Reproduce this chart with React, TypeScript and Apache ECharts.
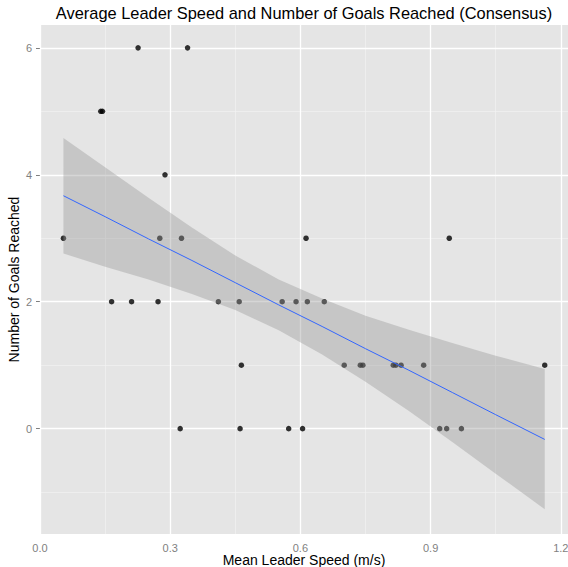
import React, { useEffect, useRef } from "react";
import * as echarts from "echarts";

// Observed points: mean leader speed (m/s) and number of goals reached
const speed = [
  0.054, 0.14, 0.144, 0.226, 0.34, 0.288, 0.165, 0.211, 0.272, 0.411, 0.276,
  0.326, 0.323, 0.459, 0.464, 0.461, 0.558, 0.59, 0.616, 0.655, 0.613, 0.573,
  0.605, 0.701, 0.738, 0.744, 0.814, 0.82, 0.832, 0.884, 0.943, 0.921, 0.937,
  0.971, 1.163,
];
const goals = [
  3, 5, 5, 6, 6, 4, 2, 2, 2, 2, 3, 3, 0, 2, 1, 0, 2, 2, 2, 2, 3, 0, 0, 1, 1, 1,
  1, 1, 1, 1, 3, 0, 0, 0, 1,
];

// Smoother (linear fit) and its confidence band
const bandX = [0.054, 0.15, 0.25, 0.35, 0.45, 0.55, 0.65, 0.75, 0.85, 0.95, 1.05, 1.163];
const fitY = [3.67, 3.34, 2.99, 2.65, 2.3, 1.95, 1.61, 1.26, 0.92, 0.57, 0.22, -0.17];
const bandUpper = [4.58, 4.12, 3.64, 3.17, 2.73, 2.35, 2.05, 1.78, 1.56, 1.35, 1.15, 0.94];
const bandLower = [2.76, 2.55, 2.35, 2.12, 1.87, 1.55, 1.17, 0.74, 0.28, -0.21, -0.71, -1.27];

// Axis ticks
const xTicks = [0, 0.3, 0.6, 0.9, 1.2];
const xMinor = [0.15, 0.45, 0.75, 1.05];
const yTicks = [0, 2, 4, 6];
const yMinor = [-1, 1, 3, 5];

const FONT = "Liberation Sans, Arial, Helvetica, sans-serif";

export default function App() {
  const ref = useRef<HTMLDivElement>(null);

  useEffect(() => {
    if (!ref.current) return;
    const chart = echarts.init(ref.current, undefined, { renderer: "svg" });

    const points = speed.map((s, i) => [s, goals[i]]);
    const fit = bandX.map((x, i) => [x, fitY[i]]);

    const gridLines = [
      ...yMinor.map((v) => ({ yAxis: v, lineStyle: { color: "#F2F2F2", width: 0.7, type: "solid" } })),
      ...xMinor.map((v) => ({ xAxis: v, lineStyle: { color: "#F2F2F2", width: 0.7, type: "solid" } })),
      ...yTicks.map((v) => ({ yAxis: v, lineStyle: { color: "#FFFFFF", width: 1.3, type: "solid" } })),
      ...xTicks.map((v) => ({ xAxis: v, lineStyle: { color: "#FFFFFF", width: 1.3, type: "solid" } })),
    ];

    chart.setOption({
      animation: false,
      graphic: [
        {
          type: "text",
          x: 304,
          y: 13,
          style: {
            text: "Average Leader Speed and Number of Goals Reached (Consensus)",
            textAlign: "center",
            textVerticalAlign: "middle",
            font: `16.4px ${FONT}`,
            fill: "#000000",
          },
        },
      ],
      grid: {
        left: 40,
        right: 0,
        top: 25,
        bottom: 33,
        outerBoundsMode: "none",
        containLabel: false,
        show: true,
        backgroundColor: "#E5E5E5",
        borderWidth: 0,
      },
      xAxis: {
        type: "value",
        min: 0,
        max: 1.2166,
        name: "Mean Leader Speed (m/s)",
        nameLocation: "middle",
        nameGap: 19,
        nameMoveOverlap: false,
        nameTextStyle: { fontFamily: FONT, fontSize: 14, color: "#000000" },
        axisLine: { show: false },
        splitLine: { show: false },
        axisTick: {
          show: true,
          length: 4,
          customValues: xTicks,
          lineStyle: { color: "#7F7F7F", width: 1 },
        },
        axisLabel: {
          customValues: xTicks,
          formatter: (v: number) => v.toFixed(1),
          margin: 8,
          fontFamily: FONT,
          fontSize: 11,
          color: "#7F7F7F",
        },
      },
      yAxis: {
        type: "value",
        min: -1.66,
        max: 6.36,
        name: "Number of Goals Reached",
        nameLocation: "middle",
        nameGap: 19,
        nameRotate: 90,
        nameMoveOverlap: false,
        nameTextStyle: { fontFamily: FONT, fontSize: 14, color: "#000000" },
        axisLine: { show: false },
        splitLine: { show: false },
        axisTick: {
          show: true,
          length: 4,
          customValues: yTicks,
          lineStyle: { color: "#7F7F7F", width: 1 },
        },
        axisLabel: {
          customValues: yTicks,
          formatter: (v: number) => String(v),
          margin: 8,
          fontFamily: FONT,
          fontSize: 11,
          color: "#7F7F7F",
        },
      },
      series: [
        {
          type: "scatter",
          data: points,
          symbol: "circle",
          symbolSize: 5.5,
          itemStyle: { color: "#000000" },
          z: 2,
          silent: true,
          markLine: {
            silent: true,
            z: 1,
            symbol: ["none", "none"],
            label: { show: false },
            emphasis: { disabled: true },
            data: gridLines,
          },
        },
        {
          type: "custom",
          data: [[0.5, 2]],
          z: 3,
          silent: true,
          clip: true,
          renderItem: (_params: any, api: any) => {
            const pts: number[][] = [];
            for (let i = 0; i < bandX.length; i++) pts.push(api.coord([bandX[i], bandUpper[i]]));
            for (let i = bandX.length - 1; i >= 0; i--) pts.push(api.coord([bandX[i], bandLower[i]]));
            return {
              type: "polygon",
              shape: { points: pts },
              style: { fill: "rgba(153,153,153,0.4)", stroke: "none" },
            };
          },
        },
        {
          type: "line",
          data: fit,
          symbol: "none",
          smooth: false,
          z: 4,
          silent: true,
          lineStyle: { color: "#3366FF", width: 1 },
        },
      ],
    });

    return () => chart.dispose();
  }, []);

  return (
    <div
      ref={ref}
      style={{ position: "absolute", left: 0, top: 0, width: 568, height: 567 }}
    />
  );
}
